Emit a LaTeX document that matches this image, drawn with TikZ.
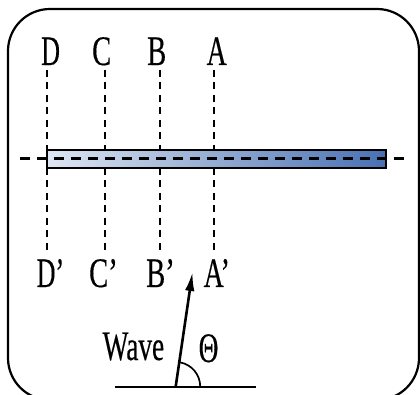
\documentclass[tikz,border=0pt]{standalone}
\usepackage{fontspec}
\setmainfont{Liberation Serif}
\newfontfamily\lblfont[FakeBold=0.4]{Liberation Serif}
\usetikzlibrary{arrows.meta}
\begin{document}
\begin{tikzpicture}[x=1pt,y=-1pt,
  lbl/.style={inner sep=0pt,anchor=base west,font=\fontsize{42}{42}\lblfont},
  guide/.style={line width=2pt,dash pattern=on 7pt off 5.5pt},
  axisline/.style={line width=3pt,dash pattern=on 10pt off 7pt}]
\useasboundingbox (0,0) rectangle (420,395);
\clip (0,0) rectangle (420,395);
% frame
\draw[line width=2.2pt,rounded corners=42pt] (8,9) rectangle (419,400);
% labels
\node[lbl] (D) at (41,65) {\scalebox{0.62}[1]{D}};
\node[lbl] (C) at (92,65) {\scalebox{0.68}[1]{C}};
\node[lbl] (B) at (147,65) {\scalebox{0.68}[1]{B}};
\node[lbl] (A) at (206.5,65) {\scalebox{0.66}[1]{A}};
\node[lbl] (D2) at (36.5,287) {\scalebox{0.62}[1]{D’}};
\node[lbl] (C2) at (89,287) {\scalebox{0.68}[1]{C’}};
\node[lbl] (B2) at (146,287) {\scalebox{0.68}[1]{B’}};
\node[lbl] (A2) at (203.5,287) {\scalebox{0.66}[1]{A’}};
\node[lbl] (wave) at (102.5,360) {\scalebox{0.65}[1]{Wave}};
\node[lbl] (theta) at (198.5,362) {\scalebox{0.65}[1]{Θ}};
% guide coordinates (upper and lower parts, hidden behind the bar)
\coordinate (d1) at (47,70);    \coordinate (d2) at (47,150);
\coordinate (d3) at (47,168);   \coordinate (d4) at (47,253);
\coordinate (c1) at (104.5,70); \coordinate (c2) at (104.5,150);
\coordinate (c3) at (104.5,168);\coordinate (c4) at (104.5,253);
\coordinate (b1) at (159.5,70); \coordinate (b2) at (159.5,150);
\coordinate (b3) at (159.5,168);\coordinate (b4) at (159.5,253);
\coordinate (a1) at (213.5,70); \coordinate (a2) at (213.5,150);
\coordinate (a3) at (213.5,168);\coordinate (a4) at (213.5,253);
\draw[guide] (d1) -- (d2); \draw[guide] (d3) -- (d4);
\draw[guide] (c1) -- (c2); \draw[guide] (c3) -- (c4);
\draw[guide] (b1) -- (b2); \draw[guide] (b3) -- (b4);
\draw[guide] (a1) -- (a2); \draw[guide] (a3) -- (a4);
% bar
\path[draw=black,line width=1.8pt,left color={rgb,255:red,222;green,230;blue,242},right color={rgb,255:red,72;green,112;blue,178}] (47,150) rectangle (386,168);
\node[inner sep=0pt,minimum size=0pt] (bar) at (216.5,159) {};
% horizontal axis
\coordinate (h1) at (20,159); \coordinate (h2) at (406,159);
\draw[axisline] (h1) -- (h2);
% wave arrow
\coordinate (g1) at (115,386.5); \coordinate (g2) at (256,386.5);
\coordinate (o) at (175.7,386.5); \coordinate (tip) at (192.5,272);
\draw[line width=2pt] (g1) -- (g2);
\draw[line width=1.7pt] ([shift={(24.5,0)}]o) arc[start angle=0,end angle=-80,radius=24.5];
\draw[line width=2.6pt,-{Latex[length=19pt,width=9.5pt]}] (o) -- (tip);
\end{tikzpicture}
\end{document}
